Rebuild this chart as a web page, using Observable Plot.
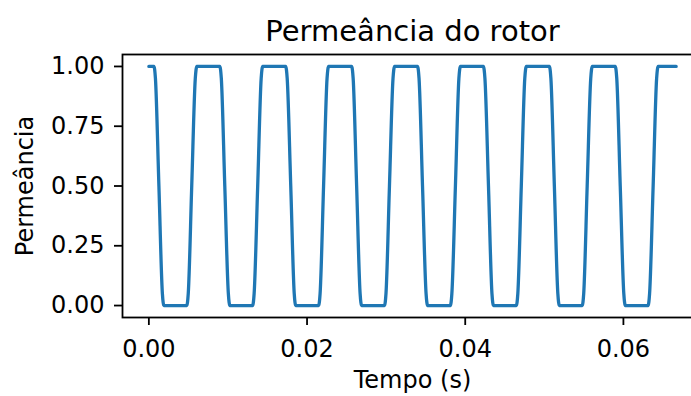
<!DOCTYPE html>
<html>
<head>
<meta charset="utf-8">
<script src="https://cdn.jsdelivr.net/npm/d3@7"></script>
<script src="https://cdn.jsdelivr.net/npm/@observablehq/plot@0.6"></script>
<style>
  html, body { margin: 0; padding: 0; background: #fff; overflow: hidden; }
</style>
</head>
<body>
<div id="chart"></div>
<script>
// Rotor permeance over time (s): sample points along the waveform
const tempo = [
  0, 0.00064, 0.00083, 0.00127, 0.00171, 0.00190,
  0.00479, 0.00498, 0.00542, 0.00587, 0.00606,
  0.00897, 0.00916, 0.00960, 0.01005, 0.01024,
  0.01312, 0.01331, 0.01376, 0.01420, 0.01439,
  0.01730, 0.01749, 0.01794, 0.01838, 0.01857,
  0.02146, 0.02165, 0.02209, 0.02253, 0.02272,
  0.02564, 0.02583, 0.02627, 0.02671, 0.02690,
  0.02979, 0.02998, 0.03042, 0.03087, 0.03106,
  0.03397, 0.03416, 0.03460, 0.03505, 0.03524,
  0.03812, 0.03831, 0.03876, 0.03920, 0.03939,
  0.04230, 0.04249, 0.04294, 0.04338, 0.04357,
  0.04646, 0.04665, 0.04709, 0.04753, 0.04772,
  0.05064, 0.05083, 0.05127, 0.05171, 0.05190,
  0.05479, 0.05498, 0.05542, 0.05587, 0.05606,
  0.05897, 0.05916, 0.05960, 0.06005, 0.06024,
  0.06312, 0.06331, 0.06376, 0.06420, 0.06439,
  0.06667
];
const permeancia = [
  1, 1, 0.95, 0.5, 0.05, 0,
  0, 0.05, 0.5, 0.95, 1,
  1, 0.95, 0.5, 0.05, 0,
  0, 0.05, 0.5, 0.95, 1,
  1, 0.95, 0.5, 0.05, 0,
  0, 0.05, 0.5, 0.95, 1,
  1, 0.95, 0.5, 0.05, 0,
  0, 0.05, 0.5, 0.95, 1,
  1, 0.95, 0.5, 0.05, 0,
  0, 0.05, 0.5, 0.95, 1,
  1, 0.95, 0.5, 0.05, 0,
  0, 0.05, 0.5, 0.95, 1,
  1, 0.95, 0.5, 0.05, 0,
  0, 0.05, 0.5, 0.95, 1,
  1, 0.95, 0.5, 0.05, 0,
  0, 0.05, 0.5, 0.95, 1,
  1
];

const xTicks = [0, 0.02, 0.04, 0.06];
const yTicks = [0, 0.25, 0.5, 0.75, 1];

const titulo = "Permeância do rotor";
const rotuloX = "Tempo (s)";
const rotuloY = "Permeância";

const data = tempo.map((t, i) => ({t, p: permeancia[i]}));

const fmt = d3.format(".2f");
const font = "DejaVu Sans, sans-serif";
const ink = "#000";

const chart = Plot.plot({
  width: 691,
  height: 396,
  marginLeft: 122,
  marginRight: -11,
  marginTop: 54,
  marginBottom: 79,
  style: {fontFamily: font, fontSize: "24px", color: ink, background: "#fff", overflow: "hidden"},
  x: {domain: [-0.0033333, 0.07]},
  y: {domain: [-0.05, 1.05]},
  marks: [
    Plot.line(data, {x: "t", y: "p", curve: "monotone-x", stroke: "#1f77b4", strokeWidth: 3.3}),
    Plot.frame({stroke: ink, strokeWidth: 1.8}),
    Plot.axisX({ticks: xTicks, tickFormat: fmt, tickSize: 8, tickPadding: 14, strokeWidth: 1.8, label: null, fontSize: 24}),
    Plot.axisY({ticks: yTicks, tickFormat: fmt, tickSize: 8, tickPadding: 10, strokeWidth: 1.8, label: null, fontSize: 24}),
    Plot.text([titulo], {frameAnchor: "top", dy: -23, lineAnchor: "middle", fontSize: 29, fill: ink}),
    Plot.text([rotuloX], {frameAnchor: "bottom", dy: 63, lineAnchor: "middle", fontSize: 24, fill: ink}),
    Plot.text([rotuloY], {frameAnchor: "left", dx: -97, textAnchor: "middle", lineAnchor: "middle", rotate: -90, fontSize: 24, fill: ink})
  ]
});

document.getElementById("chart").append(chart);
</script>
</body>
</html>
